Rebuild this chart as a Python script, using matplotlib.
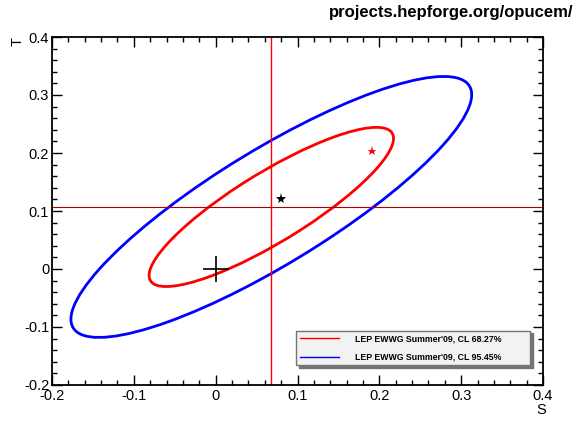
import numpy as np
import matplotlib.pyplot as plt
from matplotlib.patches import Ellipse
from matplotlib.ticker import MultipleLocator

plt.rcParams['font.family'] = ['Liberation Sans', 'DejaVu Sans']

# fit result (S, T) with errors and correlation
center_s, center_t = 0.068, 0.107
sigma_s, sigma_t = 0.0985, 0.0905
rho = 0.86
cl_labels = ["LEP EWWG Summer'09, CL 68.27%", "LEP EWWG Summer'09, CL 95.45%"]
cl_chi2 = [2.30, 6.18]
cl_colors = ['#ff0000', '#0000ff']

# model points
black_star = (0.080, 0.121)
red_star = (0.191, 0.203)
ref_point = (0.0, 0.0)

fig = plt.figure(figsize=(5.82, 4.22), dpi=100)
ax = fig.add_axes([52/582, 37/422, 491/582, 348/422])

cov = np.array([[sigma_s**2, rho*sigma_s*sigma_t],
                [rho*sigma_s*sigma_t, sigma_t**2]])
vals, vecs = np.linalg.eigh(cov)
angle = np.degrees(np.arctan2(vecs[1, 1], vecs[0, 1]))
handles = []
for k, lab, col in zip(cl_chi2, cl_labels, cl_colors):
    w = 2*np.sqrt(k*vals[1])
    h = 2*np.sqrt(k*vals[0])
    e = Ellipse((center_s, center_t), w, h, angle=angle, fill=False,
                edgecolor=col, lw=2)
    ax.add_patch(e)
    handles.append(plt.Line2D([], [], color=col, lw=1, label=lab))

ax.axvline(center_s, color='red', lw=1)
ax.axhline(center_t, color='#b00000', lw=0.8)

ax.plot(*ref_point, marker='+', color='black', ms=19, mew=1.2)
ax.plot(*black_star, marker='*', color='black', ms=8, mew=0)
ax.plot(*red_star, marker='*', color='red', ms=6.5, mew=0)

ax.set_xlim(-0.2, 0.4)
ax.set_ylim(-0.2, 0.4)
ax.xaxis.set_major_locator(MultipleLocator(0.1))
ax.xaxis.set_minor_locator(MultipleLocator(0.02))
ax.yaxis.set_major_locator(MultipleLocator(0.1))
ax.yaxis.set_minor_locator(MultipleLocator(0.02))
ax.tick_params(which='both', direction='in', top=True, right=True,
               labelsize=10.5, width=1)
ax.tick_params(which='major', length=7)
ax.tick_params(which='minor', length=3.5)
ax.xaxis.set_major_formatter(plt.FuncFormatter(lambda v, p: '%g' % round(v, 2)))
ax.yaxis.set_major_formatter(plt.FuncFormatter(lambda v, p: '%g' % round(v, 2)))
ax.tick_params(axis='x', pad=3)
ax.tick_params(axis='y', pad=2)
for sp in ax.spines.values():
    sp.set_linewidth(1.3)

fig.text(18/582, 1 - 41/422, 'T', rotation=90, ha='center', va='center', fontsize=10.5)
fig.text(541/582, 1 - 410/422, 'S', ha='center', va='center', fontsize=10.5)
fig.text(573/582, 1 - 12/422, 'projects.hepforge.org/opucem/', ha='right',
         va='center', fontsize=12, fontweight='bold')

leg = ax.legend(handles=handles, loc='lower left', bbox_to_anchor=(0.497, 0.057, 0.477, 0.115),
                mode='expand', prop={'size': 6.3, 'weight': 'bold'}, frameon=True,
                fancybox=False, shadow={'color': '0.45', 'alpha': 1}, handlelength=4.5,
                borderaxespad=0, labelspacing=1.1, handletextpad=1.8)
leg.get_frame().set_edgecolor('0.45')
leg.get_frame().set_facecolor('#f2f2f2')
leg.get_frame().set_linewidth(1)

fig.savefig('out.png', dpi=100)
